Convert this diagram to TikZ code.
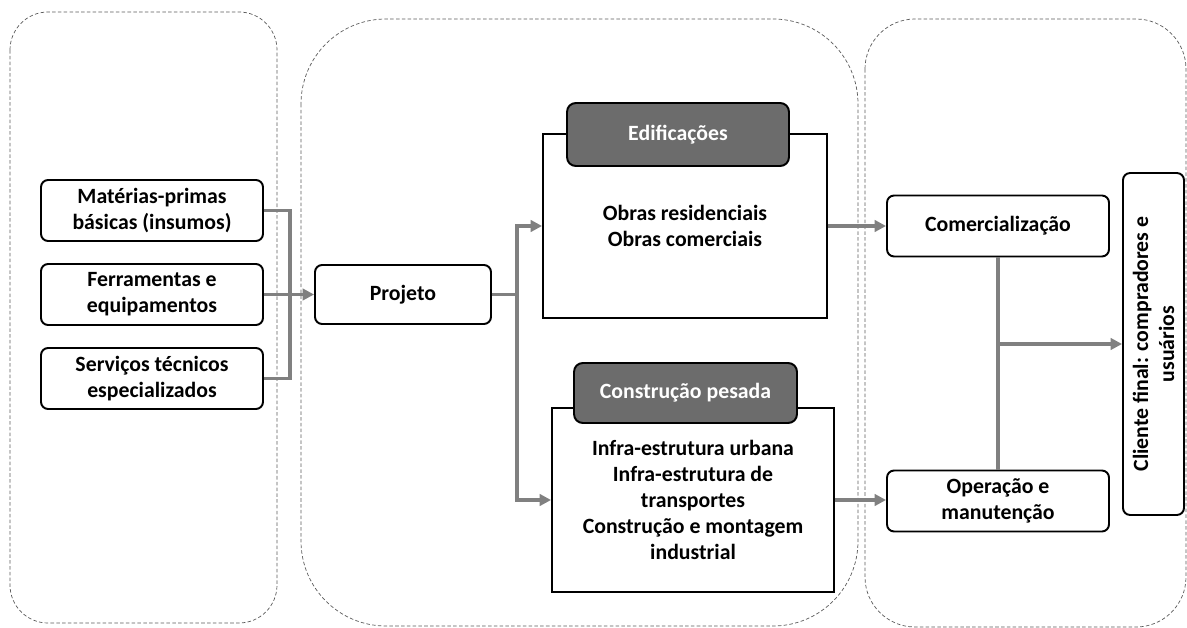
\documentclass[tikz,border=0pt]{standalone}
\usepackage{fontspec}
\setmainfont{Carlito}
\usetikzlibrary{arrows.meta}

\definecolor{linkgray}{RGB}{128,128,128}
\definecolor{headgray}{RGB}{108,108,108}
\definecolor{zonegray}{RGB}{90,90,90}

\begin{document}
\begin{tikzpicture}[
    x=0.02cm, y=-0.02cm,
    every node/.style={font=\fontsize{12.4}{14.8}\selectfont\bfseries, align=center, inner sep=0pt},
    zone/.style={draw=zonegray, line width=0.4pt, dash pattern=on 2pt off 1.3pt},
    box/.style={
        draw, 
        rounded corners=4pt, 
        line width=1.1pt, 
        fill=white,
        minimum width=4.44cm, 
        minimum height=1.22cm
    },
    sector/.style={draw, line width=1.1pt, fill=white},
    header/.style={
        draw, 
        rounded corners=5pt, 
        line width=1.1pt, 
        fill=headgray, 
        text=white
    },
    link/.style={draw=linkgray, line width=1.8pt},
    arrow/.style={link, -{Triangle[length=6.5pt, width=6.5pt]}}
]
    \useasboundingbox (0,0) rectangle (1187,628);

    % Areas
    \draw[zone, rounded corners=0.76cm] (10,12) rectangle (277,623);
    \draw[zone, rounded corners=1.7cm] (301,19) rectangle (858,626);
    \draw[zone, rounded corners=1cm] (865,19) rectangle (1186,627);

    % Insumos
    \node[box] (mat) at (152,210.5) {Matérias-primas\\básicas (insumos)};
    \node[box] (fer) at (152,294.5) {Ferramentas e\\equipamentos};
    \node[box] (serv) at (152,378.5) {Serviços técnicos\\especializados};

    % Projeto
    \node[box, minimum width=3.52cm, minimum height=1.18cm] (proj) at (403,294.5) {Projeto};

    % Setores
    \node[sector, minimum width=5.68cm, minimum height=3.68cm] (edif) at (685,226) 
         {Obras residenciais\\Obras comerciais};
    \node[header, minimum width=4.44cm, minimum height=1.26cm] (edifhead) at (678,134.5) {Edificações};
    \node[sector, minimum width=5.64cm, minimum height=3.68cm] (pes) at (693,500) 
         {Infra-estrutura urbana\\Infra-estrutura de\\transportes\\Construção e montagem\\industrial};
    \node[header, minimum width=4.46cm, minimum height=1.2cm] (peshead) at (685.5,393) {Construção pesada};

    % Mercado
    \node[box] (com) at (998,226) {Comercialização};
    \node[box] (op) at (998,501) {Operação e\\manutenção};
    \node[box, rotate=90, minimum width=6.84cm, minimum height=1.22cm] (cli) at (1153.5,344) 
         {Cliente final: compradores e\\usuários};

    % Conexoes
    \draw[link] (mat.east) -- ++(26,0) |- (serv.east);
    \draw[arrow] (fer) -- (proj);
    \draw[arrow] (proj.east) -- ++(25,0) |- (edif.west);
    \draw[arrow] (proj.east) -- ++(25,0) |- (pes.west);
    \draw[arrow] (edif) -- (com);
    \draw[arrow] (pes.east) -- (op.west |- pes.east);
    \draw[link] (com) -- (op);
    \draw[arrow] (com.south |- cli.north) -- (cli.north);
\end{tikzpicture}
\end{document}
